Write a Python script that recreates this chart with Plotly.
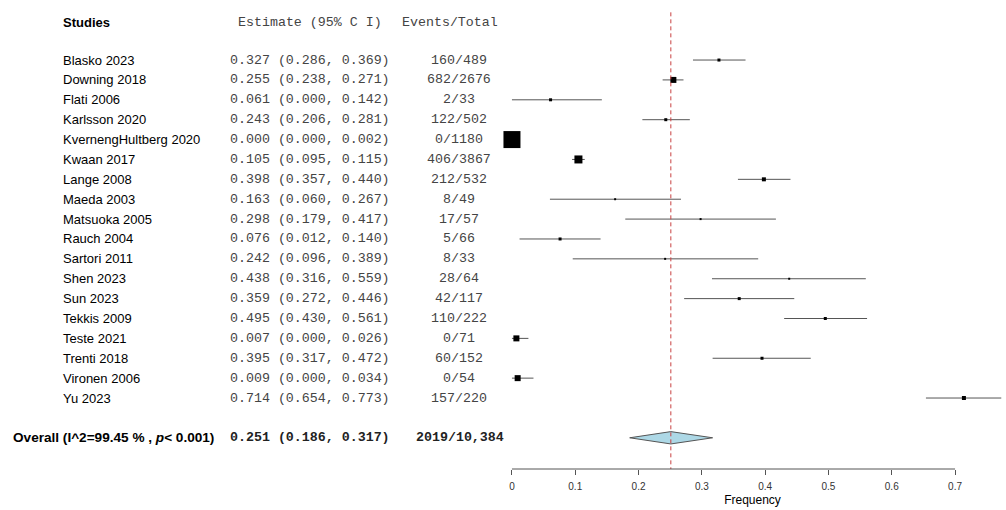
import plotly.graph_objects as go

# ---------------- data ----------------
studies = ["Blasko 2023", "Downing 2018", "Flati 2006", "Karlsson 2020",
           "KvernengHultberg 2020", "Kwaan 2017", "Lange 2008", "Maeda 2003",
           "Matsuoka 2005", "Rauch 2004", "Sartori 2011", "Shen 2023",
           "Sun 2023", "Tekkis 2009", "Teste 2021", "Trenti 2018",
           "Vironen 2006", "Yu 2023"]
estimate = [0.327, 0.255, 0.061, 0.243, 0.000, 0.105, 0.398, 0.163, 0.298,
            0.076, 0.242, 0.438, 0.359, 0.495, 0.007, 0.395, 0.009, 0.714]
ci_low = [0.286, 0.238, 0.000, 0.206, 0.000, 0.095, 0.357, 0.060, 0.179,
          0.012, 0.096, 0.316, 0.272, 0.430, 0.000, 0.317, 0.000, 0.654]
ci_high = [0.369, 0.271, 0.142, 0.281, 0.002, 0.115, 0.440, 0.267, 0.417,
           0.140, 0.389, 0.559, 0.446, 0.561, 0.026, 0.472, 0.034, 0.773]
events = [160, 682, 2, 122, 0, 406, 212, 8, 17, 5, 8, 28, 42, 110, 0, 60, 0, 157]
totals = [489, 2676, 33, 502, 1180, 3867, 532, 49, 57, 66, 33, 64, 117, 222,
          71, 152, 54, 220]
overall_est, overall_low, overall_high = 0.251, 0.186, 0.317
overall_events_total = "2019/10,384"
overall_label = "Overall (I^2=99.45 % , <i>p</i>< 0.001)"
x_ticks = [0, 0.1, 0.2, 0.3, 0.4, 0.5, 0.6, 0.7]
x_tick_labels = ["0", "0.1", "0.2", "0.3", "0.4", "0.5", "0.6", "0.7"]

# ---------------- styles ----------------
box_px = [3, 6, 3, 3, 17, 8, 4, 2, 2, 3, 2, 2, 3, 3, 6, 3, 6, 4]
W, H = 1006, 510
SANS = "Liberation Sans, Arial, sans-serif"
MONO = "Liberation Mono, Courier New, monospace"
rows = list(range(len(studies)))
overall_row = len(studies) + 1
header_row = -1.9

fig = go.Figure()

# CI lines
xs, ys = [], []
for r, l, h in zip(rows, ci_low, ci_high):
    xs += [l, h, None]
    ys += [r, r, None]
fig.add_trace(go.Scatter(x=xs, y=ys, mode="lines",
                         line=dict(color="#555555", width=1),
                         hoverinfo="skip", showlegend=False))
# boxes
fig.add_trace(go.Scatter(x=estimate, y=rows, mode="markers",
                         marker=dict(symbol="square", size=box_px, color="#000000",
                                     opacity=1, line=dict(width=0)),
                         cliponaxis=False, showlegend=False))
# diamond
fig.add_trace(go.Scatter(
    x=[overall_low, overall_est, overall_high, overall_est, overall_low],
    y=[overall_row, overall_row - 0.31, overall_row, overall_row + 0.31, overall_row],
    mode="lines", fill="toself", fillcolor="#ADD8E6",
    line=dict(color="#555555", width=1), showlegend=False, hoverinfo="skip"))

# reference line
fig.add_shape(type="line", x0=overall_est, x1=overall_est, y0=-2.4, y1=20.57,
              xref="x", yref="y", line=dict(color="#C84040", width=1, dash="4px,3px"))
# axis line from 0 to 0.7
fig.add_shape(type="line", x0=x_ticks[0], x1=x_ticks[-1], y0=41 / H, y1=41 / H,
              xref="x", yref="paper", line=dict(color="#555555", width=1))

def ann(x_px, y, text, font, color="black", anchor="left", size=13):
    fig.add_annotation(x=x_px / W, xref="paper", y=y, yref="y", text=text,
                       showarrow=False, xanchor=anchor, yanchor="middle",
                       font=dict(family=font, size=size, color=color))

# headers
ann(61, header_row, "<b>Studies</b>", SANS, size=13)
ann(236, header_row, "Estimate (95% C I)", MONO, color="#444444", size=13.3)
ann(450, header_row, "Events/Total", MONO, color="#444444", anchor="center", size=13.3)

for r, s, e, l, h, ev, tot in zip(rows, studies, estimate, ci_low, ci_high, events, totals):
    ann(61, r, s, SANS)
    ann(228, r, f"{e:.3f} ({l:.3f}, {h:.3f})", MONO, color="#444444", size=13.3)
    ann(459, r, f"{ev}/{tot}", MONO, color="#444444", anchor="center", size=13.3)

ann(11, overall_row, f"<b>{overall_label}</b>", SANS, size=13.6)
ann(228, overall_row, f"<b>{overall_est:.3f} ({overall_low:.3f}, {overall_high:.3f})</b>",
    MONO, color="#222222", size=13.3)
ann(460, overall_row, f"<b>{overall_events_total}</b>", MONO, color="#222222",
    anchor="center", size=13.3)

fig.update_layout(
    width=W, height=H, margin=dict(l=0, r=0, t=0, b=0),
    plot_bgcolor="white", paper_bgcolor="white", showlegend=False,
    xaxis=dict(range=[-0.02, 0.78], domain=[499.3 / W, 1005.7 / W],
               tickvals=x_ticks, ticktext=x_tick_labels, showgrid=False,
               zeroline=False, showline=False, ticks="outside", ticklen=5,
               tickcolor="#555555", ticklabelstandoff=3,
               tickfont=dict(family=SANS, size=10, color="#333333"),
               title=dict(text="Frequency", font=dict(family=SANS, size=12, color="black"),
                          standoff=4)),
    yaxis=dict(range=[20.57, -3.02], domain=[41 / H, 1], visible=False),
)

fig.write_html("out.html", config={"displayModeBar": False},
               post_script="document.body.style.margin='0';")
